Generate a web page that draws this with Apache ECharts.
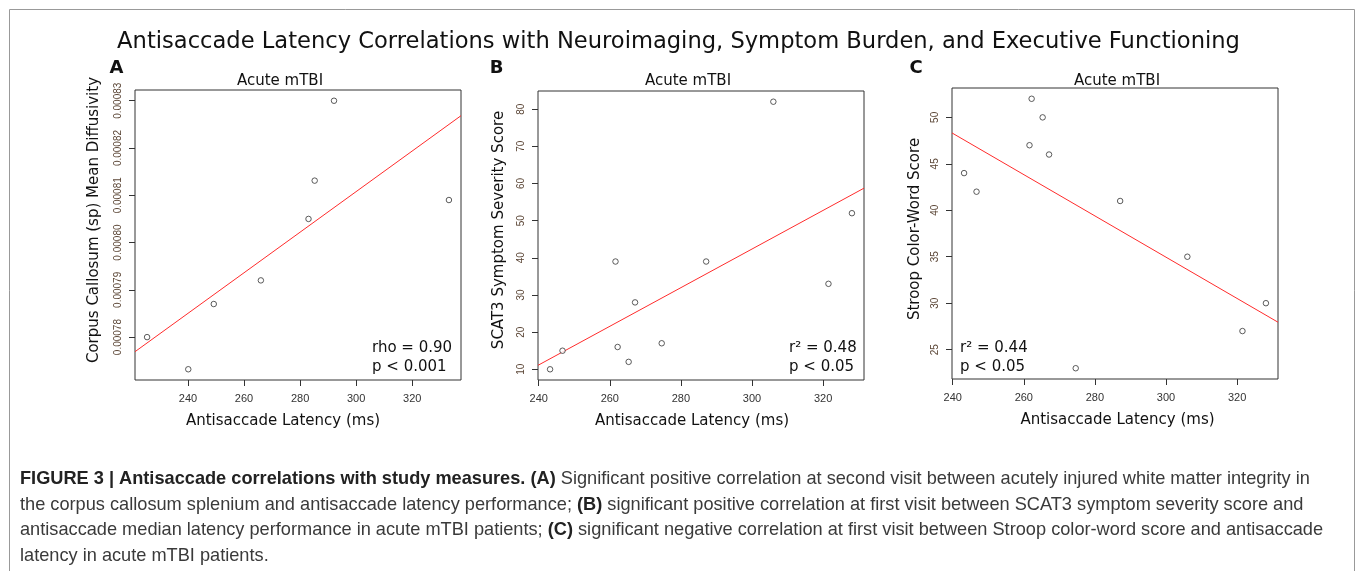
<!DOCTYPE html>
<html>
<head>
<meta charset="utf-8">
<title>Antisaccade Latency Correlations</title>
<script src="https://cdn.jsdelivr.net/npm/echarts@6.0.0/dist/echarts.min.js"></script>
<style>
  html, body { margin: 0; padding: 0; background: #fff; }
  #chart { width: 1357px; height: 571px; }
</style>
</head>
<body>
<div id="chart"></div>
<script>
// panel A: second visit, mean diffusivity
const latencyA = [225.4, 240.1, 249.2, 266.0, 283.0, 285.2, 292.1, 333.1]
const diffusivityA = [0.000780, 0.0007732, 0.000787, 0.000792, 0.000805, 0.0008131, 0.000830, 0.000809]

// panels B and C: first visit
const latencyBC = [243.2, 246.7, 261.6, 262.2, 265.3, 267.1, 274.6, 287.1, 306.0, 321.5, 328.1]
const scat3B = [10, 15, 39, 16, 12, 28, 17, 39, 82, 33, 52]
const stroopC = [44, 42, 47, 52, 50, 46, 23, 41, 35, 27, 30]

// tick labels
const xTicks = [240, 260, 280, 300, 320]
const yTicksA = [0.00078, 0.00079, 0.00080, 0.00081, 0.00082, 0.00083]
const yTicksB = [10, 20, 30, 40, 50, 60, 70, 80]
const yTicksC = [25, 30, 35, 40, 45, 50]

const panelTitle = 'Acute mTBI'
const xTitle = 'Antisaccade Latency (ms)'
const yTitles = ['Corpus Callosum (sp) Mean Diffusivity', 'SCAT3 Symptom Severity Score', 'Stroop Color-Word Score']
const stats = [['rho = 0.90', 'p < 0.001'], ['r\u00b2 = 0.48', 'p < 0.05'], ['r\u00b2 = 0.44', 'p < 0.05']]

// R style range: data range padded by 4%
function rRange(arr) {
    let lo = Math.min(...arr), hi = Math.max(...arr)
    let pad = (hi - lo) * 0.04
    return [lo - pad, hi + pad]
}

// least squares fit
function fit(xs, ys) {
    let n = xs.length
    let mx = xs.reduce((s, v) => s + v, 0) / n
    let my = ys.reduce((s, v) => s + v, 0) / n
    let sxy = 0, sxx = 0
    for (let i = 0; i < n; i++) {
        sxy += (xs[i] - mx) * (ys[i] - my)
        sxx += (xs[i] - mx) * (xs[i] - mx)
    }
    let b = sxy / sxx
    return { a: my - b * mx, b: b }
}

const panels = [
    { xs: latencyA, ys: diffusivityA, yTicks: yTicksA, digits: 5, grid: { left: 135, top: 90, width: 326, height: 290 } },
    { xs: latencyBC, ys: scat3B, yTicks: yTicksB, digits: 0, grid: { left: 538, top: 91, width: 326, height: 289 } },
    { xs: latencyBC, ys: stroopC, yTicks: yTicksC, digits: 0, grid: { left: 952, top: 88, width: 326, height: 291 } }
]

const titleFont = 'DejaVu Sans, Verdana, sans-serif'
const tickFont = 'Liberation Sans, Arial, sans-serif'

let grids = [], xAxes = [], yAxes = [], series = []
panels.forEach((p, i) => {
    let xr = rRange(p.xs)
    let yr = rRange(p.ys)
    let f = fit(p.xs, p.ys)
    grids.push(Object.assign({ show: true, borderColor: '#333', borderWidth: 1, backgroundColor: 'transparent' }, p.grid))
    xAxes.push({
        type: 'value', gridIndex: i, min: xr[0], max: xr[1],
        axisLine: { show: false },
        splitLine: { show: false },
        axisTick: { show: true, inside: false, length: 6, customValues: xTicks, lineStyle: { color: '#333' } },
        axisLabel: { customValues: xTicks, margin: 13, color: '#333', fontSize: 11, fontFamily: tickFont }
    })
    yAxes.push({
        type: 'value', gridIndex: i, min: yr[0], max: yr[1],
        axisLine: { show: false },
        splitLine: { show: false },
        axisTick: { show: true, inside: false, length: 6, customValues: p.yTicks, lineStyle: { color: '#333' } },
        axisLabel: {
            customValues: p.yTicks, rotate: 90, margin: 12, color: '#5b4636', fontSize: 10, fontFamily: tickFont,
            formatter: v => v.toFixed(p.digits)
        }
    })
    series.push({
        type: 'scatter', xAxisIndex: i, yAxisIndex: i,
        data: p.xs.map((x, k) => [x, p.ys[k]]),
        symbol: 'circle', symbolSize: 5.5,
        itemStyle: { color: '#fff', borderColor: '#333', borderWidth: 1 },
        silent: true, z: 3
    })
    series.push({
        type: 'line', xAxisIndex: i, yAxisIndex: i,
        data: [[xr[0], f.a + f.b * xr[0]], [xr[1], f.a + f.b * xr[1]]],
        showSymbol: false, clip: true,
        lineStyle: { color: '#ff2b2b', width: 1 },
        silent: true, z: 2
    })
})

function txt(x, y, text, size, opts) {
    return {
        type: 'text', x: x, y: y, rotation: (opts && opts.rotation) || 0, silent: true,
        style: Object.assign({
            text: text, fontSize: size, fontFamily: titleFont, fill: '#111',
            align: 'center', verticalAlign: 'middle', textAlign: 'center', textVerticalAlign: 'middle'
        }, (opts && opts.style) || {})
    }
}

const left = { align: 'left', textAlign: 'left' }
let graphics = [
    { type: 'rect', shape: { x: 9.5, y: 9.5, width: 1345, height: 580 }, style: { fill: 'none', stroke: '#999', lineWidth: 1 }, silent: true },
    txt(678.5, 42, 'Antisaccade Latency Correlations with Neuroimaging, Symptom Burden, and Executive Functioning', 22.6),
    txt(116.5, 68.5, 'A', 18, { style: { fontWeight: 'bold' } }),
    txt(496.5, 68.5, 'B', 18, { style: { fontWeight: 'bold' } }),
    txt(916, 68.5, 'C', 18, { style: { fontWeight: 'bold' } }),
    txt(280, 81, panelTitle, 15),
    txt(688, 81, panelTitle, 15),
    txt(1117, 81, panelTitle, 15),
    txt(283, 421, xTitle, 15),
    txt(692, 421, xTitle, 15),
    txt(1117.5, 420, xTitle, 15),
    txt(94.5, 220, yTitles[0], 15, { rotation: Math.PI / 2 }),
    txt(499, 230, yTitles[1], 15, { rotation: Math.PI / 2 }),
    txt(915, 229, yTitles[2], 15, { rotation: Math.PI / 2 }),
    txt(372, 348, stats[0][0], 15, { style: left }),
    txt(372, 367, stats[0][1], 15, { style: left }),
    txt(789, 348, stats[1][0], 15, { style: left }),
    txt(789, 367, stats[1][1], 15, { style: left }),
    txt(960, 348, stats[2][0], 15, { style: left }),
    txt(960, 367, stats[2][1], 15, { style: left })
]

// caption
const captionLines = [
    '{b|FIGURE 3 | Antisaccade correlations with study measures. (A)} Significant positive correlation at second visit between acutely injured white matter integrity in',
    'the corpus callosum splenium and antisaccade latency performance; {b|(B)} significant positive correlation at first visit between SCAT3 symptom severity score and',
    'antisaccade median latency performance in acute mTBI patients; {b|(C)} significant negative correlation at first visit between Stroop color-word score and antisaccade',
    'latency in acute mTBI patients.'
]
captionLines.forEach((line, k) => {
    graphics.push(txt(20, 479 + k * 25.6, line, 18.2, {
        style: {
            align: 'left', textAlign: 'left', fill: '#3a3a3a', fontFamily: tickFont,
            rich: { b: { fontWeight: 'bold', fill: '#222', fontSize: 18.2, fontFamily: tickFont } }
        }
    }))
})

let myChart = echarts.init(document.getElementById('chart'))
myChart.setOption({
    animation: false,
    grid: grids,
    xAxis: xAxes,
    yAxis: yAxes,
    series: series,
    graphic: { elements: graphics }
})
</script>
</body>
</html>
